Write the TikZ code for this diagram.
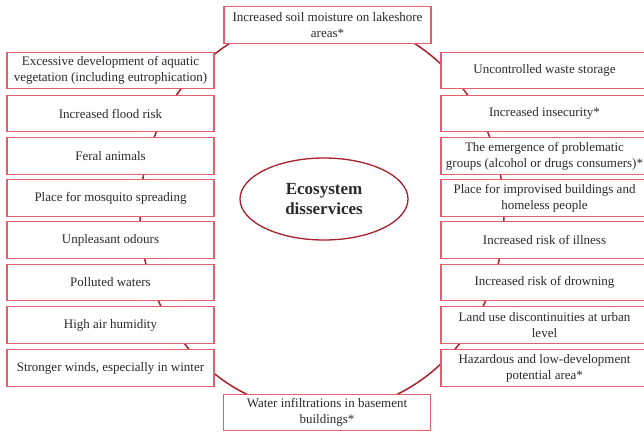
\documentclass[tikz,border=0pt]{standalone}
\usepackage{fontspec}
\setmainfont{Liberation Serif}
\usetikzlibrary{shapes.geometric}
\definecolor{boxred}{HTML}{E0606C}
\definecolor{ringred}{HTML}{A8202C}
\definecolor{txt}{HTML}{2A2A2A}
\tikzset{
  dbox/.style={draw=boxred, line width=1.3pt, fill=white, rectangle, inner sep=0pt,
    minimum width=207pt, minimum height=36.5pt, align=center, text=txt,
    font=\fontsize{13}{16}\selectfont},
  ring/.style={draw=ringred, line width=1.5pt},
  hub/.style={ellipse, draw=ringred, line width=1.3pt, fill=white, minimum width=168pt,
    minimum height=82pt, inner sep=0pt, align=center, text=txt,
    font=\fontsize{17}{20}\selectfont\bfseries}
}
\begin{document}
\begin{tikzpicture}[x=1pt,y=-1pt]
\useasboundingbox (0,0) rectangle (644,431);
\coordinate (rc) at (322,214);
\draw[ring] (rc) ellipse [x radius=182pt, y radius=198pt];
% top and bottom
\node[dbox] (top) at (327.5,25) {Increased soil moisture on lakeshore\\areas*};
\node[dbox] (bot) at (327,412.5) {Water infiltrations in basement\\buildings*};
% left column
\node[dbox] (l1) at (110.5,70.5) {Excessive development of aquatic\\vegetation (including eutrophication)};
\node[dbox] (l2) at (110.5,113.5) {Increased flood risk};
\node[dbox] (l3) at (110.5,156) {Feral animals};
\node[dbox] (l4) at (110.5,198) {Place for mosquito spreading};
\node[dbox] (l5) at (110.5,240) {Unpleasant odours};
\node[dbox] (l6) at (110.5,282.5) {Polluted waters};
\node[dbox] (l7) at (110.5,325) {High air humidity};
\node[dbox] (l8) at (110.5,368) {Stronger winds, especially in winter};
% right column
\node[dbox] (r1) at (544.5,70.5) {Uncontrolled waste storage};
\node[dbox] (r2) at (544.5,113.5) {Increased insecurity*};
\node[dbox] (r3) at (544.5,156) {The emergence of problematic\\groups (alcohol or drugs consumers)*};
\node[dbox] (r4) at (544.5,198) {Place for improvised buildings and\\homeless people};
\node[dbox] (r5) at (544.5,240) {Increased risk of illness};
\node[dbox] (r6) at (544.5,282.5) {Increased risk of drowning};
\node[dbox] (r7) at (544.5,325) {Land use discontinuities at urban\\level};
\node[dbox] (r8) at (544.5,368) {Hazardous and low-development\\potential area*};
% centre
\node[hub] (hub) at (324,199) {Ecosystem\\disservices};
\end{tikzpicture}
\end{document}
